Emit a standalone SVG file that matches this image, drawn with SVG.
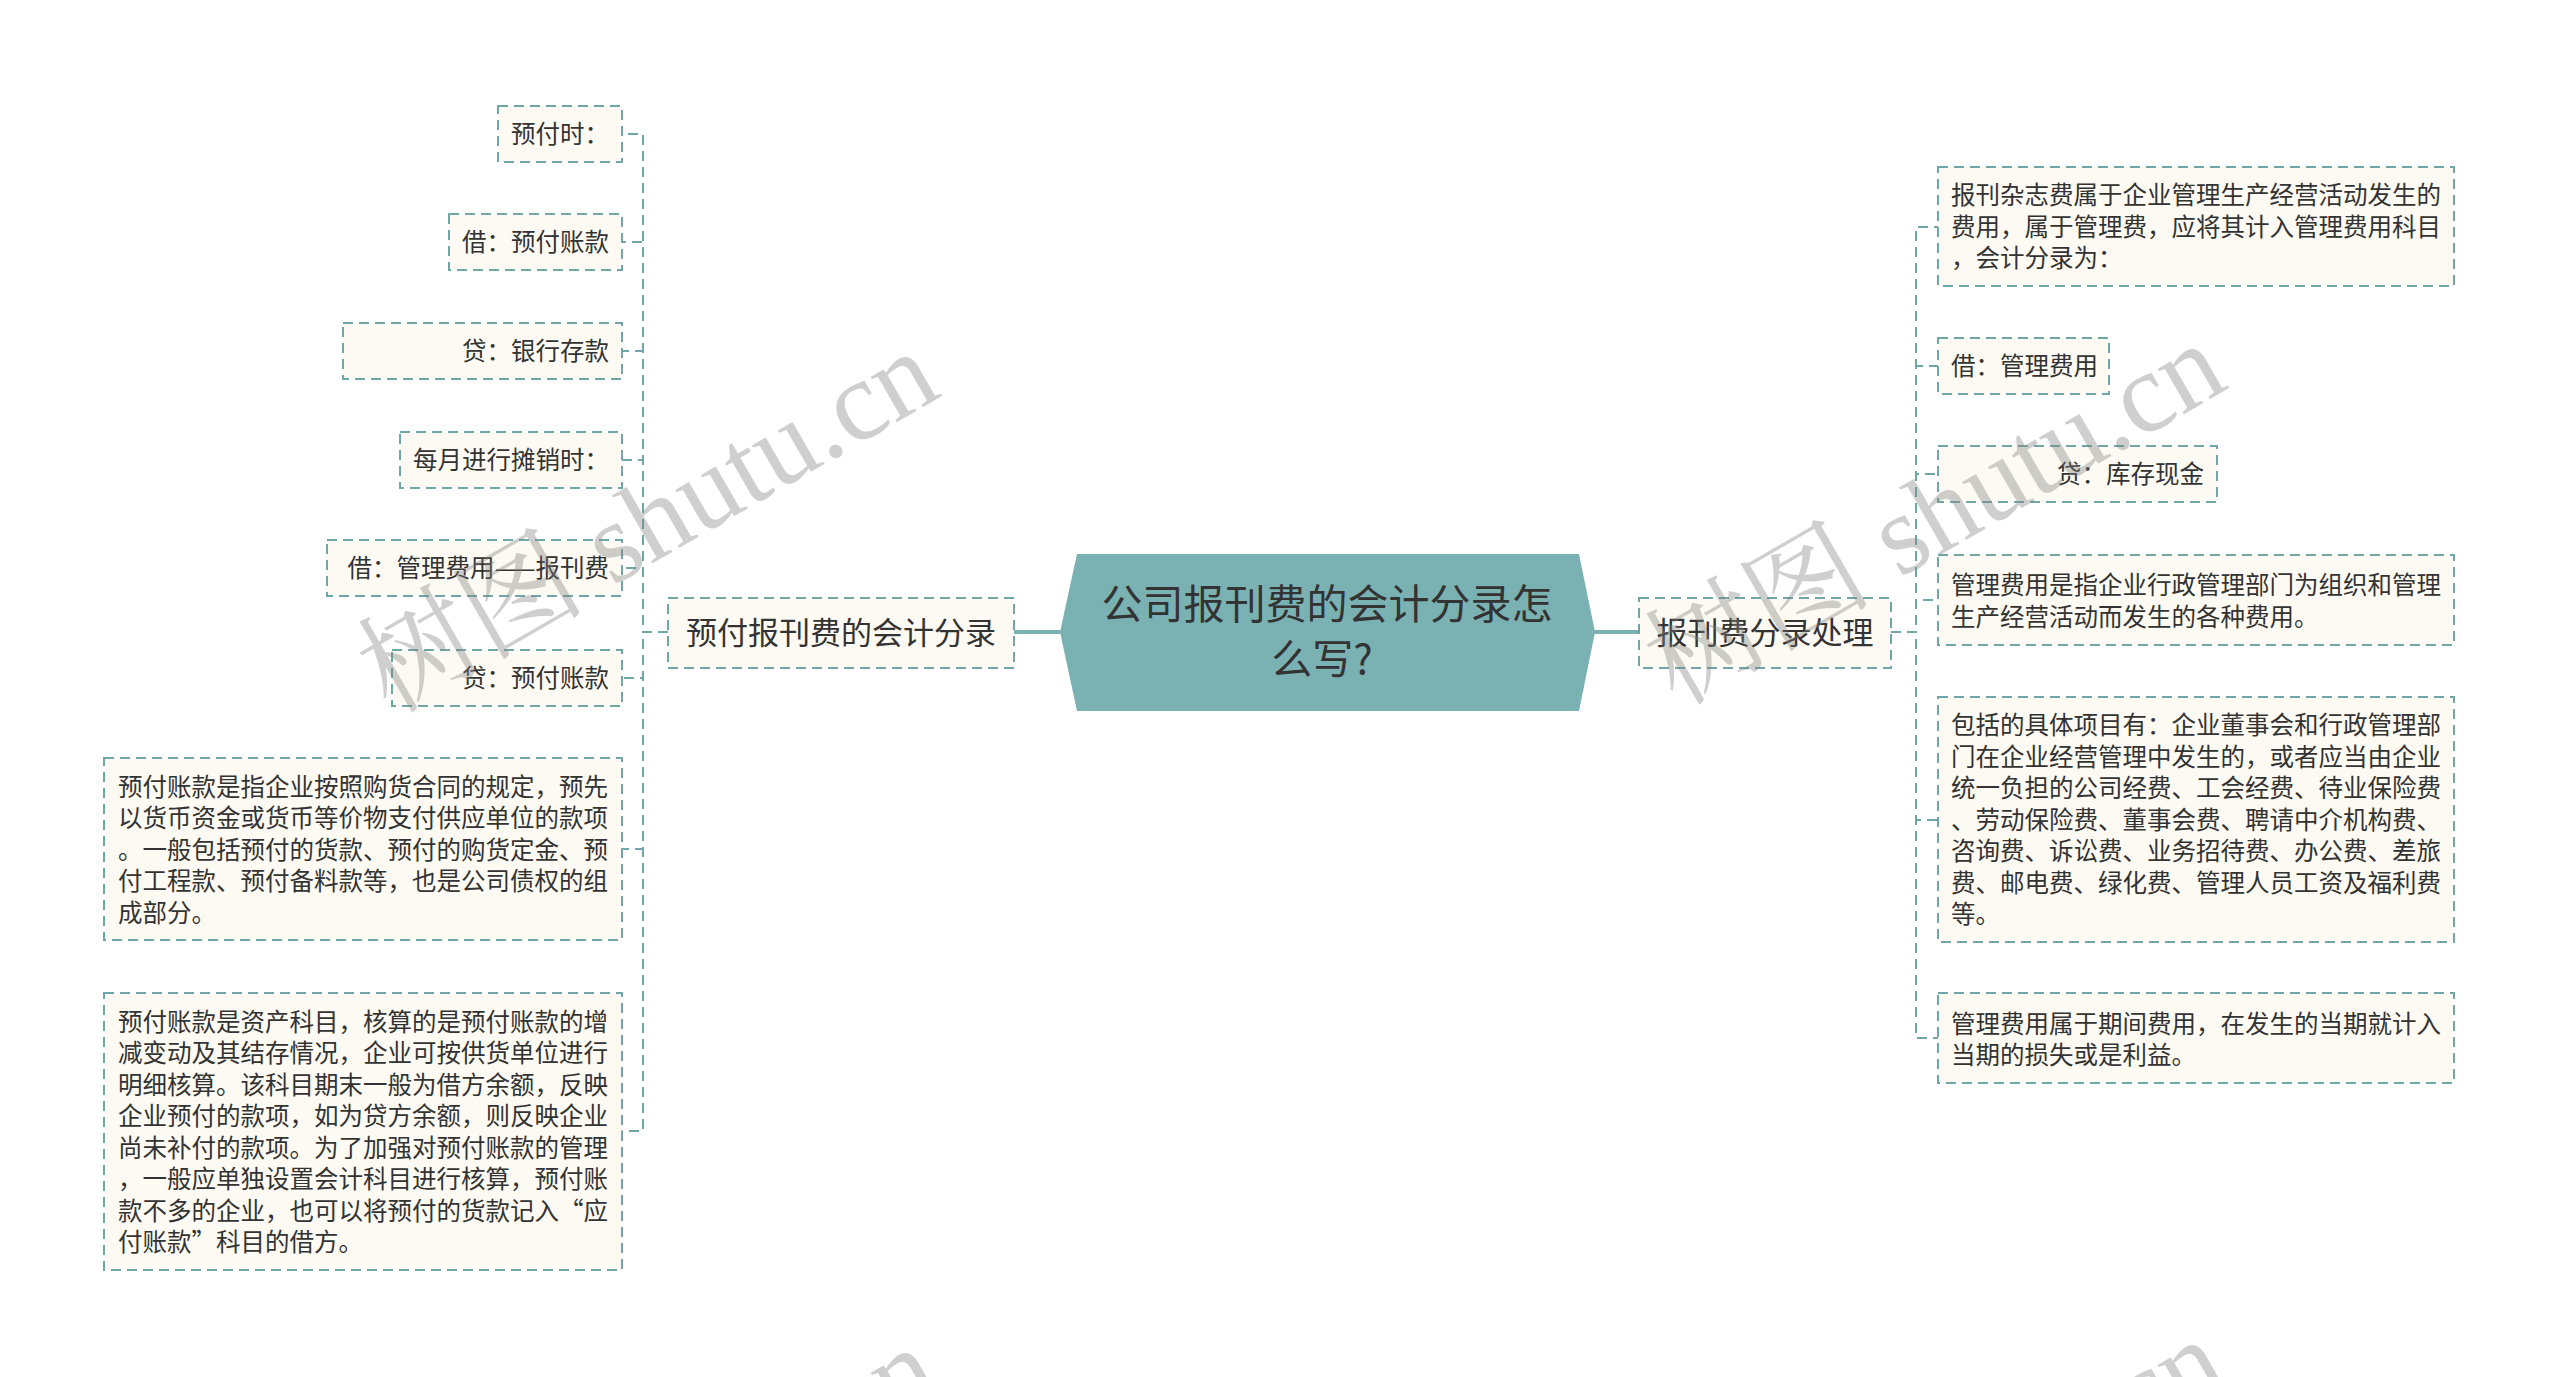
<svg xmlns="http://www.w3.org/2000/svg" width="2560" height="1377" viewBox="0 0 2560 1377">
<style>
.box{fill:#fcfaf2;stroke:#6fa6a8;stroke-width:2;stroke-dasharray:10 6}
.t{font-family:"Noto Sans CJK SC","Noto Sans",sans-serif;fill:#333;dominant-baseline:central}
.leaf{font-size:24.5px}
.br{font-size:31px}
.ctr{font-size:41px}
.conn{fill:none;stroke:#6fa6a8;stroke-width:2;stroke-dasharray:10 6}
.solid{fill:none;stroke:#7ab2b4;stroke-width:4}
.wm{font-family:"Liberation Serif","Noto Serif CJK SC","Noto Sans CJK SC",serif;font-size:114px;fill:#808080;fill-opacity:0.38}
</style>
<rect width="2560" height="1377" fill="#ffffff"/>
<g id="connectors">
<path class="solid" d="M1060 632 H1014"/>
<path class="solid" d="M1592 632 H1639"/>
<path class="conn" d="M668 632 H643 V134 H622"/>
<path class="conn" d="M668 632 H643 V242 H622"/>
<path class="conn" d="M668 632 H643 V351 H622"/>
<path class="conn" d="M668 632 H643 V460 H622"/>
<path class="conn" d="M668 632 H643 V568 H622"/>
<path class="conn" d="M668 632 H643 V678 H622"/>
<path class="conn" d="M668 632 H643 V849 H622"/>
<path class="conn" d="M668 632 H643 V1131 H622"/>
<path class="conn" d="M1891 632 H1916 V227 H1938"/>
<path class="conn" d="M1891 632 H1916 V366 H1938"/>
<path class="conn" d="M1891 632 H1916 V474 H1938"/>
<path class="conn" d="M1891 632 H1916 V600 H1938"/>
<path class="conn" d="M1891 632 H1916 V820 H1938"/>
<path class="conn" d="M1891 632 H1916 V1038 H1938"/>
</g>
<g id="center">
<polygon points="1077,554 1579,554 1595,632 1579,711 1077,711 1060,632" fill="#7ab2b4"/>
<text class="t ctr" x="1327" y="601" text-anchor="middle">公司报刊费的会计分录怎</text>
<text class="t ctr" x="1322" y="656" text-anchor="middle">么写?</text>
</g>
<g id="branch-left">
<rect class="box" x="668" y="598" width="346" height="70"/>
<text class="t br" x="841" y="630" text-anchor="middle">预付报刊费的会计分录</text>
</g>
<g id="branch-right">
<rect class="box" x="1639" y="598" width="252" height="70"/>
<text class="t br" x="1765" y="630" text-anchor="middle">报刊费分录处理</text>
</g>
<g id="l1"><rect class="box" x="498" y="106" width="124" height="56"/><text class="t leaf" x="609" y="132" text-anchor="end">预付时：</text></g>
<g id="l2"><rect class="box" x="449" y="214" width="173" height="56"/><text class="t leaf" x="609" y="240" text-anchor="end">借：预付账款</text></g>
<g id="l3"><rect class="box" x="343" y="323" width="279" height="56"/><text class="t leaf" x="609" y="349" text-anchor="end">贷：银行存款</text></g>
<g id="l4"><rect class="box" x="400" y="432" width="222" height="56"/><text class="t leaf" x="609" y="458" text-anchor="end">每月进行摊销时：</text></g>
<g id="l5"><rect class="box" x="327" y="540" width="295" height="56"/><text class="t leaf" x="609" y="566" text-anchor="end">借：管理费用——报刊费</text></g>
<g id="l6"><rect class="box" x="392" y="650" width="230" height="56"/><text class="t leaf" x="609" y="676" text-anchor="end">贷：预付账款</text></g>
<g id="l7"><rect class="box" x="104" y="758" width="518" height="182"/>
<text class="t leaf" x="118" y="785">预付账款是指企业按照购货合同的规定，预先</text>
<text class="t leaf" x="118" y="816">以货币资金或货币等价物支付供应单位的款项</text>
<text class="t leaf" x="118" y="848">。一般包括预付的货款、预付的购货定金、预</text>
<text class="t leaf" x="118" y="879">付工程款、预付备料款等，也是公司债权的组</text>
<text class="t leaf" x="118" y="911">成部分。</text>
</g>
<g id="l8"><rect class="box" x="104" y="993" width="518" height="277"/>
<text class="t leaf" x="118" y="1020">预付账款是资产科目，核算的是预付账款的增</text>
<text class="t leaf" x="118" y="1051">减变动及其结存情况，企业可按供货单位进行</text>
<text class="t leaf" x="118" y="1083">明细核算。该科目期末一般为借方余额，反映</text>
<text class="t leaf" x="118" y="1114">企业预付的款项，如为贷方余额，则反映企业</text>
<text class="t leaf" x="118" y="1146">尚未补付的款项。为了加强对预付账款的管理</text>
<text class="t leaf" x="118" y="1177">，一般应单独设置会计科目进行核算，预付账</text>
<text class="t leaf" x="118" y="1209">款不多的企业，也可以将预付的货款记入“应</text>
<text class="t leaf" x="118" y="1240">付账款”科目的借方。</text>
</g>
<g id="r1"><rect class="box" x="1938" y="167" width="516" height="119"/>
<text class="t leaf" x="1951" y="193">报刊杂志费属于企业管理生产经营活动发生的</text>
<text class="t leaf" x="1951" y="225">费用，属于管理费，应将其计入管理费用科目</text>
<text class="t leaf" x="1951" y="256">，会计分录为：</text>
</g>
<g id="r2"><rect class="box" x="1938" y="338" width="171" height="56"/><text class="t leaf" x="1951" y="364">借：管理费用</text></g>
<g id="r3"><rect class="box" x="1938" y="446" width="279" height="56"/><text class="t leaf" x="2204" y="472" text-anchor="end">贷：库存现金</text></g>
<g id="r4"><rect class="box" x="1938" y="555" width="516" height="90"/>
<text class="t leaf" x="1951" y="583">管理费用是指企业行政管理部门为组织和管理</text>
<text class="t leaf" x="1951" y="615">生产经营活动而发生的各种费用。</text>
</g>
<g id="r5"><rect class="box" x="1938" y="697" width="516" height="245"/>
<text class="t leaf" x="1951" y="723">包括的具体项目有：企业董事会和行政管理部</text>
<text class="t leaf" x="1951" y="755">门在企业经营管理中发生的，或者应当由企业</text>
<text class="t leaf" x="1951" y="786">统一负担的公司经费、工会经费、待业保险费</text>
<text class="t leaf" x="1951" y="818">、劳动保险费、董事会费、聘请中介机构费、</text>
<text class="t leaf" x="1951" y="849">咨询费、诉讼费、业务招待费、办公费、差旅</text>
<text class="t leaf" x="1951" y="881">费、邮电费、绿化费、管理人员工资及福利费</text>
<text class="t leaf" x="1951" y="912">等。</text>
</g>
<g id="r6"><rect class="box" x="1938" y="993" width="516" height="90"/>
<text class="t leaf" x="1951" y="1022">管理费用属于期间费用，在发生的当期就计入</text>
<text class="t leaf" x="1951" y="1053">当期的损失或是利益。</text>
</g>
<g id="watermarks">
<text class="wm" x="648" y="560" text-anchor="middle" transform="rotate(-30 648 522)">树图 shutu.cn</text>
<text class="wm" x="1935" y="552" text-anchor="middle" transform="rotate(-30 1935 514)">树图 shutu.cn</text>
<text class="wm" x="648" y="1556" text-anchor="middle" transform="rotate(-30 648 1518)">树图 shutu.cn</text>
<text class="wm" x="1935" y="1548" text-anchor="middle" transform="rotate(-30 1935 1510)">树图 shutu.cn</text>
</g>
</svg>
